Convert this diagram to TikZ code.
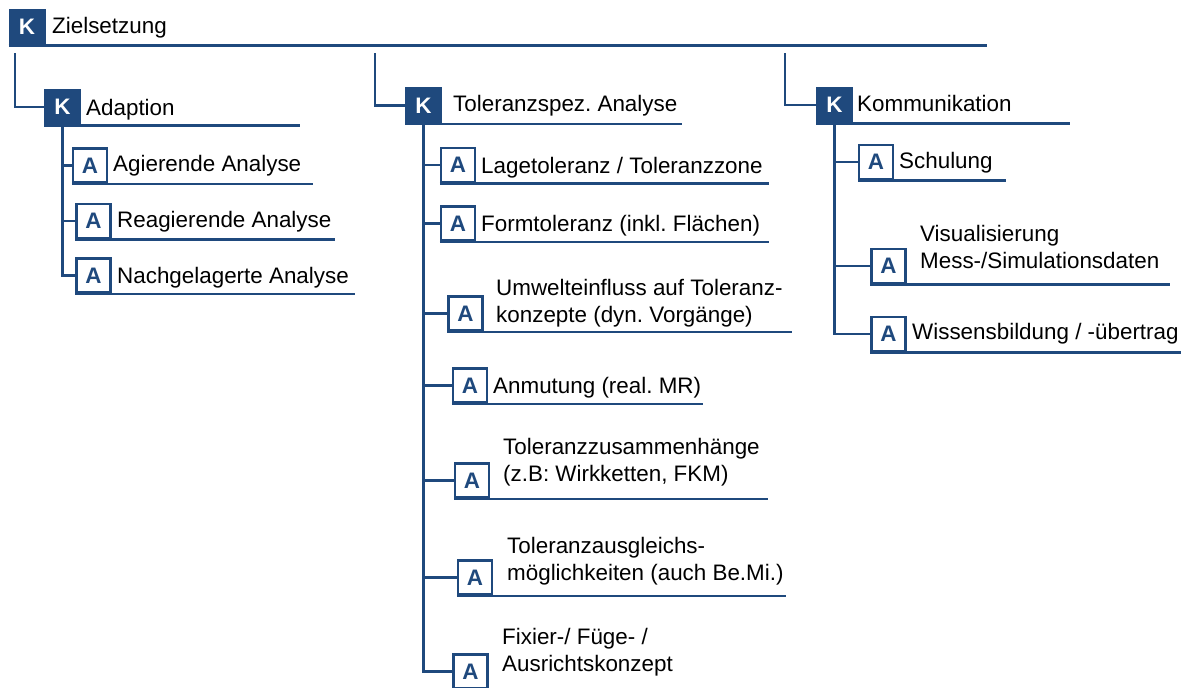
\documentclass[tikz,border=0pt]{standalone}
\usepackage{fontspec}
\setmainfont{Liberation Sans}
\frenchspacing
\definecolor{navy}{RGB}{31,73,125}
\tikzset{
  kbox/.style={draw=navy, fill=navy, line width=1pt, minimum width=36pt, minimum height=36pt,
    inner sep=0pt, text=white, font=\fontsize{22.4}{27}\selectfont\bfseries},
  abox/.style={draw=navy, fill=white, line width=2.5pt, minimum width=34pt, minimum height=34pt,
    inner sep=0pt, text=navy, font=\fontsize{22.4}{27}\selectfont\bfseries},
  lbl/.style={anchor=base west, inner sep=0pt, align=left, text=black,
    font=\fontsize{22.4}{27}\selectfont},
  link/.style={draw=navy, line width=2.5pt},
  uline/.style={draw=navy, line width=2.5pt}
}
\begin{document}
\begin{tikzpicture}[x=1pt, y=-1pt]
\useasboundingbox[fill=white] (0,0) rectangle (1186,688);

% ---- top level ----
\node[kbox] (k0) at (27,27) {K};
\node[lbl] (t0) at (52,34) {Zielsetzung};

% ---- second level ----
\node[kbox] (k1) at (62.5,107) {K};
\node[lbl] (t1) at (86,115) {Adaption};
\node[kbox] (k2) at (423.5,105.5) {K};
\node[lbl] (t2) at (453,111) {Toleranzspez. Analyse};
\node[kbox] (k3) at (834.5,105) {K};
\node[lbl] (t3) at (857,111) {Kommunikation};

% ---- Adaption ----
\node[abox] (a11) at (90,165.5) {A};
\node[lbl] (t11) at (113,171) {Agierende Analyse};
\node[abox] (a12) at (93.5,221) {A};
\node[lbl] (t12) at (117,227) {Reagierende Analyse};
\node[abox] (a13) at (93.5,275.5) {A};
\node[lbl] (t13) at (117,283) {Nachgelagerte Analyse};

% ---- Toleranzspez. Analyse ----
% (two-line labels are placed by the baseline of their last line)
\node[abox] (a21) at (458,165) {A};
\node[lbl] (t21) at (481,173) {Lagetoleranz / Toleranzzone};
\node[abox] (a22) at (458,223.5) {A};
\node[lbl] (t22) at (481,231) {Formtoleranz (inkl. Flächen)};
\node[abox] (a23) at (465.5,313.5) {A};
\node[lbl] (t23) at (496,322) {Umwelteinfluss auf Toleranz-\\konzepte (dyn. Vorgänge)};
\node[abox] (a24) at (470,385.5) {A};
\node[lbl] (t24) at (493,393) {Anmutung (real. MR)};
\node[abox] (a25) at (472,480.5) {A};
\node[lbl] (t25) at (503,481) {Toleranzzusammenhänge\\(z.B: Wirkketten, FKM)};
\node[abox] (a26) at (475,577.5) {A};
\node[lbl] (t26) at (507,580) {Toleranzausgleichs-\\möglichkeiten (auch Be.Mi.)};
\node[abox] (a27) at (470.5,671.5) {A};
\node[lbl] (t27) at (502,671) {Fixier-/ Füge- /\\Ausrichtskonzept};

% ---- Kommunikation ----
\node[abox] (a31) at (876,162) {A};
\node[lbl] (t31) at (899,168) {Schulung};
\node[abox] (a32) at (888.5,266) {A};
\node[lbl] (t32) at (920,268) {Visualisierung\\Mess-/Simulationsdaten};
\node[abox] (a33) at (888.5,334) {A};
\node[lbl] (t33) at (912,339) {Wissensbildung / -übertrag};

% ---- underlines ----
\draw[uline] (k0.south west) -- ++(978,0);
\draw[uline] (k1.south west) -- ++(256,0);
\draw[uline] (k2.south west) -- ++(277,0);
\draw[uline] (k3.south west) -- ++(254,0);
\draw[uline] (a11.south west) -- ++(241,0);
\draw[uline] (a12.south west) -- ++(260,0);
\draw[uline] (a13.south west) -- ++(280,0);
\draw[uline] (a21.south west) -- ++(329,0);
\draw[uline] (a22.south west) -- ++(329,0);
\draw[uline] (a23.south west) -- ++(345,0);
\draw[uline] (a24.south west) -- ++(251,0);
\draw[uline] (a25.south west) -- ++(314,0);
\draw[uline] (a26.south west) -- ++(329,0);
\draw[uline] (a31.south west) -- ++(148,0);
\draw[uline] (a32.south west) -- ++(300,0);
\draw[uline] (a33.south west) -- ++(311,0);

% ---- connectors ----
\coordinate (c1) at (15,53);
\coordinate (c2) at (375,53);
\coordinate (c3) at (785,53);
\draw[link] (c1) |- (k1.west);
\draw[link] (c2) |- (k2.west);
\draw[link] (c3) |- (k3.west);

\foreach \a in {a11,a12,a13} \draw[link] (k1.south) |- (\a.west);
\foreach \a in {a21,a22,a23,a24,a25,a26,a27} \draw[link] (k2.south) |- (\a.west);
\foreach \a in {a31,a32,a33} \draw[link] (k3.south) |- (\a.west);

% redraw boxes on top of the connector ends
\foreach \a in {a11,a12,a13,a21,a22,a23,a24,a25,a26,a27,a31,a32,a33}
  \node[abox] at (\a) {A};
\foreach \k in {k1,k2,k3} \node[kbox] at (\k) {K};
\end{tikzpicture}
\end{document}
